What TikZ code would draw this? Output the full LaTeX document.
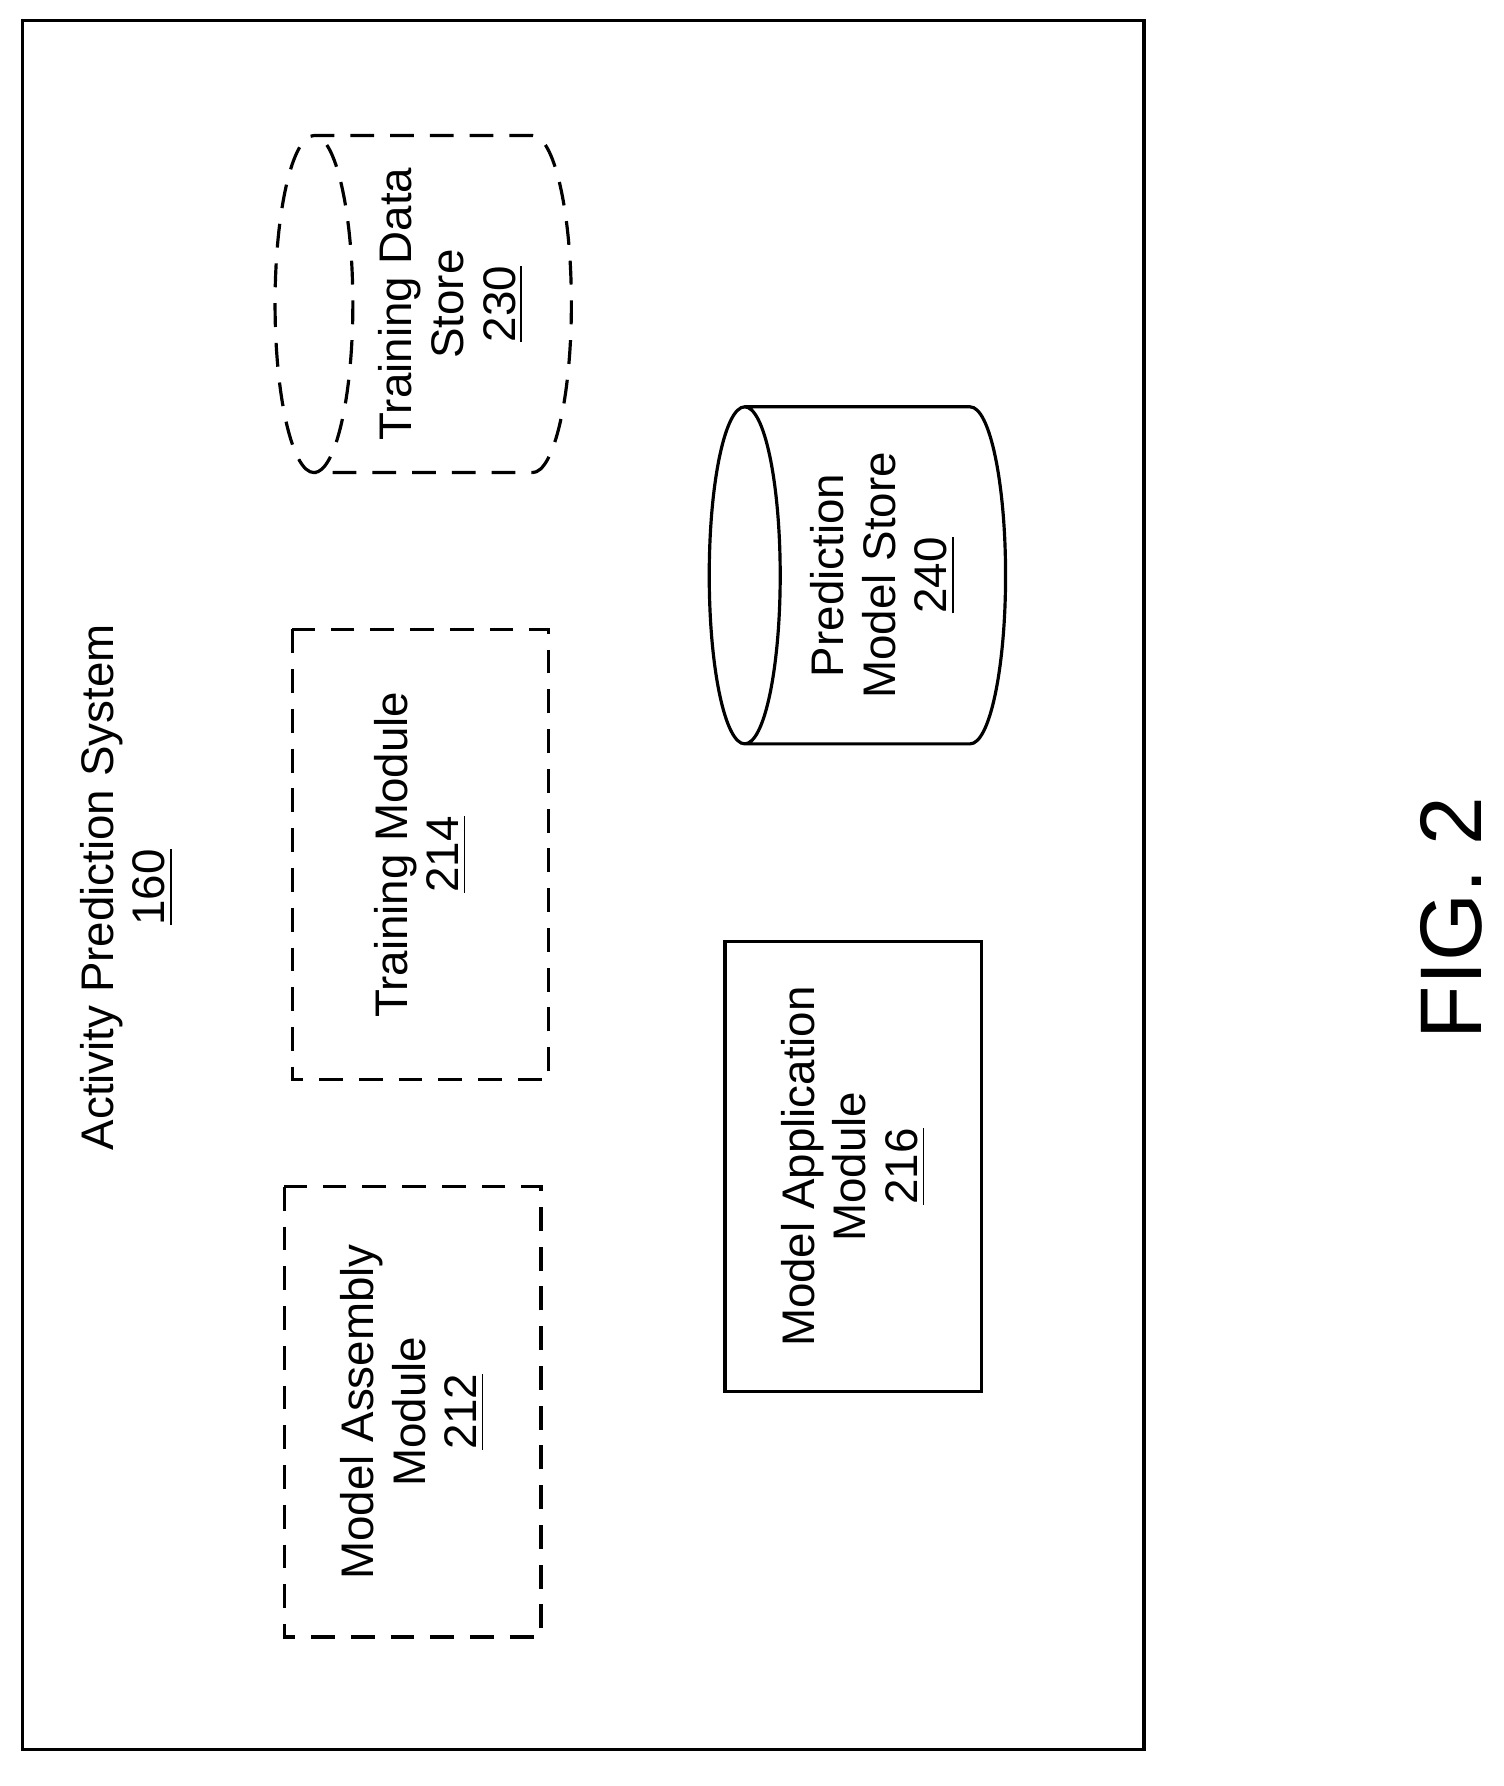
\documentclass[tikz,border=0pt]{standalone}
\usepackage{fontspec}
\setmainfont{Liberation Sans}
\usetikzlibrary{shapes.geometric,positioning}
\tikzset{
    label/.style={rotate=90, align=center, font=\fontsize{11.5}{13}\selectfont},
    module/.style={label, rectangle, draw, thick, minimum width=3.98cm, minimum height=2.27cm},
    optional/.style={dash pattern=on 6pt off 4pt},
    store/.style={label, cylinder, shape border rotate=90, draw, thick, aspect=0.26,
        minimum width=2.98cm, minimum height=2.62cm}
}
\begin{document}
\begin{tikzpicture}[x=0.01cm, y=-0.01cm]
\useasboundingbox (0,0) rectangle (1330,1580);

% Outer system box
\draw[thick] (20,18) rectangle (1012,1548);
\node (system) [label] at (112,785) {Activity Prediction System\\\underline{160}};

% Modules
\node (training) [module, optional] at (372,756) {Training Module\\\underline{214}};
\node (assembly) [module, optional] at (365,1249) {Model Assembly\\Module\\\underline{212}};
\node (application) [module] at (755,1032) {Model Application\\Module\\\underline{216}};

% Data stores
\node (trainstore) [store, optional] at (399,269) {Training Data\\Store\\\underline{230}};
\node (modelstore) [store] at (781,509) {Prediction\\Model Store\\\underline{240}};

% Figure label
\node (fig) [rotate=90, font=\fontsize{22}{26}\selectfont] at (1284,812) {FIG. 2};

\end{tikzpicture}
\end{document}
